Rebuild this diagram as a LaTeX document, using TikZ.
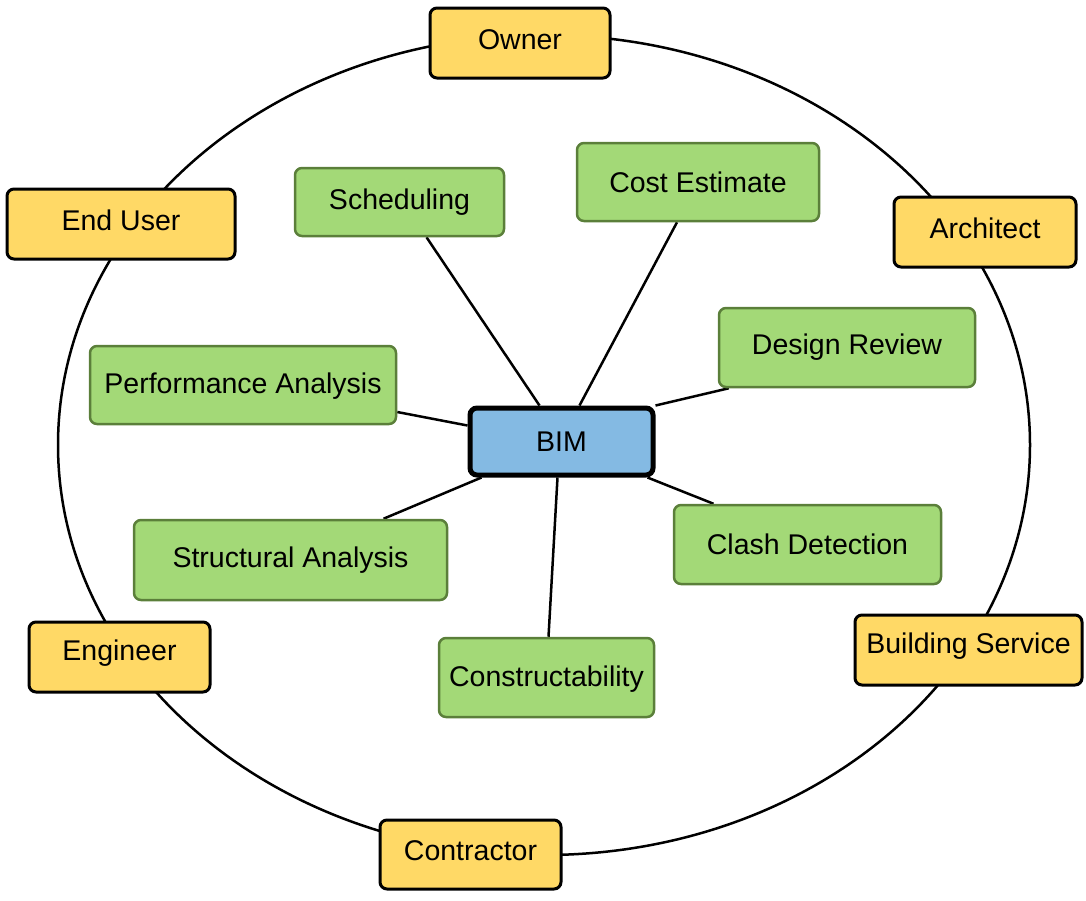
\documentclass[tikz,border=0pt]{standalone}
\usepackage{fontspec}
\setmainfont{Liberation Sans}
\usetikzlibrary{backgrounds}
\definecolor{ybox}{HTML}{FFD966}
\definecolor{gbox}{HTML}{A3D977}
\definecolor{gline}{HTML}{5B7F3A}
\definecolor{bbox}{HTML}{84BAE3}
\newcommand{\up}[1]{\raisebox{3.5pt}[\height][\depth]{#1}}
\begin{document}
\begin{tikzpicture}[x=1pt,y=-1pt,
  every node/.style={font=\fontsize{28.5}{32}\selectfont, inner sep=0pt, rounded corners=7pt},
  role/.style={draw=black, line width=3pt, fill=ybox},
  use/.style={draw=gline, line width=2.5pt, fill=gbox},
  hub/.style={draw=black, line width=5pt, fill=bbox},
  link/.style={line width=2.5pt, black}]
\useasboundingbox (0,0) rectangle (1086,900);
% roles
\node[role, minimum width=180pt, minimum height=70pt] (owner) at (520,43) {\up{Owner}};
\node[role, minimum width=228pt, minimum height=70pt] (enduser) at (121,224) {\up{End User}};
\node[role, minimum width=182pt, minimum height=70pt] (architect) at (985,232) {\up{Architect}};
\node[role, minimum width=181pt, minimum height=70pt] (engineer) at (119.5,657) {\up{Engineer}};
\node[role, minimum width=227pt, minimum height=70pt] (bservice) at (968.5,650) {\up{Building Service}};
\node[role, minimum width=181pt, minimum height=69pt] (contractor) at (470.5,854.5) {\up{Contractor}};
% uses
\node[use, minimum width=209pt, minimum height=68pt] (sched) at (399.5,202) {Scheduling};
\node[use, minimum width=242pt, minimum height=78pt] (cost) at (698,182) {Cost Estimate};
\node[use, minimum width=256pt, minimum height=79pt] (design) at (847,347.5) {Design Review};
\node[use, minimum width=306pt, minimum height=78pt] (perf) at (243,385) {\raisebox{-1.5pt}[\height][\depth]{Performance Analysis}};
\node[use, minimum width=313pt, minimum height=80pt] (struct) at (290.5,560) {Structural Analysis};
\node[use, minimum width=267pt, minimum height=79pt] (clash) at (807.5,544.5) {Clash Detection};
\node[use, minimum width=215pt, minimum height=79pt] (constr) at (546.5,677.5) {\raisebox{-1.5pt}[\height][\depth]{Constructability}};
% hub
\node[hub, minimum width=183pt, minimum height=67pt] (bim) at (561.5,441.5) {BIM};
\begin{scope}[on background layer]
\draw[link] (544,445) ellipse [x radius=486, y radius=410];
\draw[link] ([xshift=-22pt]bim.north) -- ([xshift=27pt]sched.south);
\draw[link] ([xshift=18pt]bim.north) -- ([xshift=-21pt]cost.south);
\draw[link] (bim.north east) -- ([xshift=11pt]design.south west);
\draw[link] ([yshift=16pt]bim.west) -- ([yshift=-27pt]perf.east);
\draw[link] ([xshift=14pt]bim.south west) -- ([xshift=93pt]struct.north);
\draw[link] ([xshift=-8pt]bim.south east) -- ([xshift=-94pt]clash.north);
\draw[link] ([xshift=-4pt]bim.south) -- ([xshift=2pt]constr.north);
\end{scope}
\end{tikzpicture}
\end{document}
